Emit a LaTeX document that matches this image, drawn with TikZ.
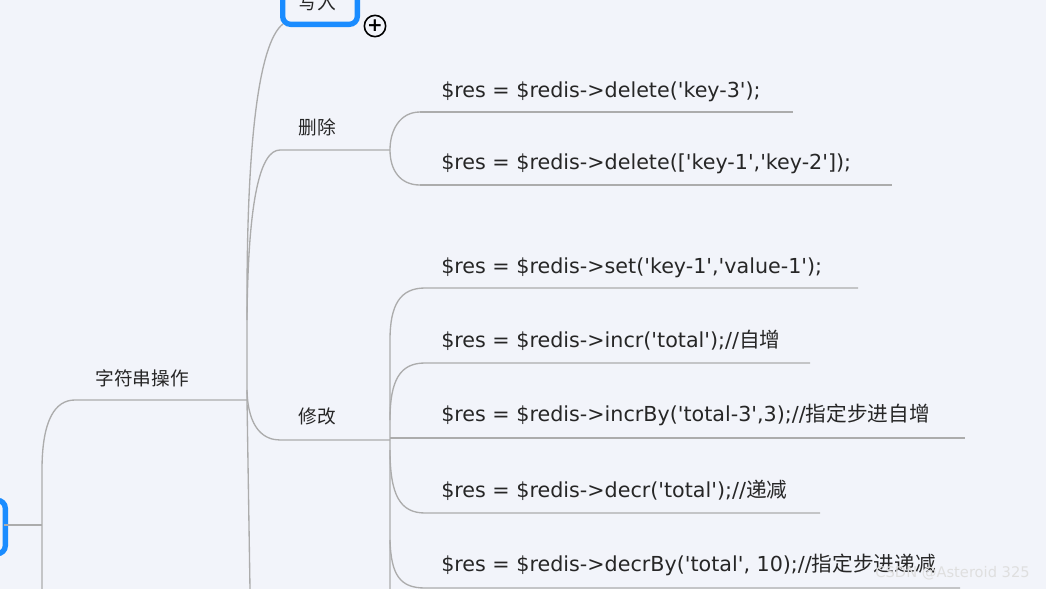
\documentclass[tikz,border=0pt]{standalone}
\usepackage{fontspec}
\setmainfont{DejaVu Sans}
\setmonofont{DejaVu Sans}
\newfontfamily\cjk{Noto Sans CJK SC}
\definecolor{bgc}{HTML}{F2F4FA}
\definecolor{boxb}{HTML}{1A8CFF}
\begin{document}
\begin{tikzpicture}[x=0.75pt,y=-0.75pt,
  br/.style={draw=gray!65,line width=1pt},
  code/.style={anchor=west,inner sep=0pt,font=\ttfamily\fontsize{15.5}{17}\selectfont,text=black!85},
  cn/.style={inner sep=0pt,font=\cjk\fontsize{14}{16}\selectfont,text=black!85}]
\fill[bgc] (0,0) rectangle (1046,589);
\useasboundingbox (0,0) rectangle (1046,589);
% top box
\node[draw=boxb,line width=4pt,rounded corners=6pt,minimum width=56pt,minimum height=40pt,anchor=south west,inner sep=0pt] (write) at (280,27) {};
\node[cn,anchor=north] at (317,-6) {写入};
\node[draw=black,line width=1.2pt,circle,minimum size=16pt,inner sep=0pt,font=\bfseries\fontsize{14}{14}\selectfont] (plus) at (375,26) {+};
% left box
\node[draw=boxb,line width=4pt,rounded corners=6pt,minimum width=20pt,minimum height=40pt,inner sep=0pt] (root) at (-8,527) {};
% main links
\coordinate (r1) at (4,525);
\coordinate (t1) at (42,525);
\draw[br] (r1) -- (t1);
\draw[br] (42,589) -- (42,470) .. controls (42,420) and (55,400) .. (75,400) -- (247,400);
\node[cn] (str) at (142,378) {字符串操作};
% trunk
\draw[br] (250,589) -- (247,400) -- (247,300) .. controls (247,120) and (262,40) .. (283,24);
\draw[br] (247,320) .. controls (248,200) and (260,150) .. (280,150) -- (390,150);
\draw[br] (247,390) .. controls (248,430) and (265,440) .. (280,440) -- (390,440);
\node[cn] (del) at (317,127) {删除};
\node[cn] (mod) at (317,416) {修改};
% delete children
\draw[br] (420,112) .. controls (400,112) and (390,130) .. (390,150) .. controls (390,170) and (400,185) .. (420,185);
\draw[br] (420,112) -- (793,112);
\draw[br] (420,185) -- (892,185);
\node[code] at (441,92) {\$res = \$redis->delete('key-3');};
\node[code] at (441,164) {\$res = \$redis->delete(['key-1','key-2']);};
% modify children
\draw[br] (390,589) -- (390,340) .. controls (390,305) and (400,288) .. (425,288) -- (858,288);
\draw[br] (390,420) .. controls (390,380) and (400,363) .. (425,363) -- (810,363);
\draw[br] (390,438) -- (965,438);
\draw[br] (390,450) .. controls (390,495) and (400,513) .. (425,513) -- (820,513);
\draw[br] (390,540) .. controls (391,575) and (400,588) .. (425,588) -- (960,588);
\node[code] at (441,268) {\$res = \$redis->set('key-1','value-1');};
\node[code] at (441,340) {\$res = \$redis->incr('total');//{\cjk 自增}};
\node[code] at (441,415) {\$res = \$redis->incrBy('total-3',3);//{\cjk 指定步进自增}};
\node[code] at (441,490) {\$res = \$redis->decr('total');//{\cjk 递减}};
\node[code] at (441,565) {\$res = \$redis->decrBy('total', 10);//{\cjk 指定步进递减}};
\node[anchor=east,inner sep=0pt,font=\fontsize{11}{12}\selectfont,text=white!75!gray] at (1030,573) {CSDN @Asteroid 325};
\end{tikzpicture}
\end{document}
